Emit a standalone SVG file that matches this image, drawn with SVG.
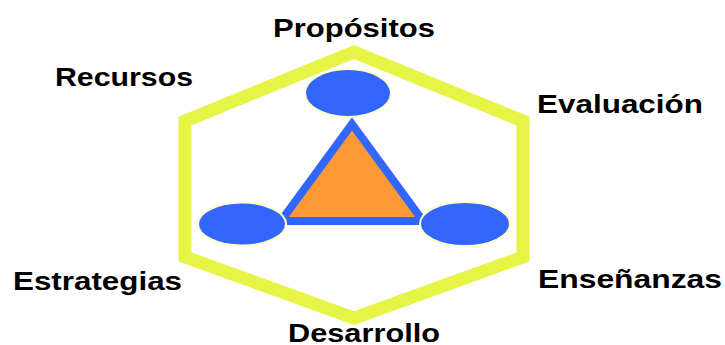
<svg xmlns="http://www.w3.org/2000/svg" width="725" height="345" viewBox="0 0 725 345">
<style>
.lbl{font-family:"Liberation Sans",Arial,sans-serif;font-weight:bold;font-size:26px;fill:#000}
.node{fill:#3366FF;stroke:#FFFFCC;stroke-width:2}
</style>
<rect width="725" height="345" fill="#fff"/>
<g id="hexagon">
<polygon points="354,52 523,121 523,257 354,318 185,257 185,121" fill="none" stroke="#E6F545" stroke-width="13"/>
</g>
<g id="connectors">
<polygon points="352,124 423,221 281,221" fill="#FF9933" stroke="#3366FF" stroke-width="8"/>
</g>
<g id="node-top"><ellipse class="node" cx="348" cy="93" rx="43" ry="24"/></g>
<g id="node-left"><ellipse class="node" cx="242" cy="224" rx="44" ry="21.5"/></g>
<g id="node-right"><ellipse class="node" cx="465" cy="224" rx="45" ry="22"/></g>
<g id="labels">
<text class="lbl" x="273" y="37" textLength="162" lengthAdjust="spacingAndGlyphs">Propósitos</text>
<text class="lbl" x="55" y="86" textLength="138" lengthAdjust="spacingAndGlyphs">Recursos</text>
<text class="lbl" x="537" y="113" textLength="166" lengthAdjust="spacingAndGlyphs">Evaluación</text>
<text class="lbl" x="13" y="290" textLength="169" lengthAdjust="spacingAndGlyphs">Estrategias</text>
<text class="lbl" x="538" y="288" textLength="184" lengthAdjust="spacingAndGlyphs">Enseñanzas</text>
<text class="lbl" x="288" y="342" textLength="152" lengthAdjust="spacingAndGlyphs">Desarrollo</text>
</g>
</svg>
